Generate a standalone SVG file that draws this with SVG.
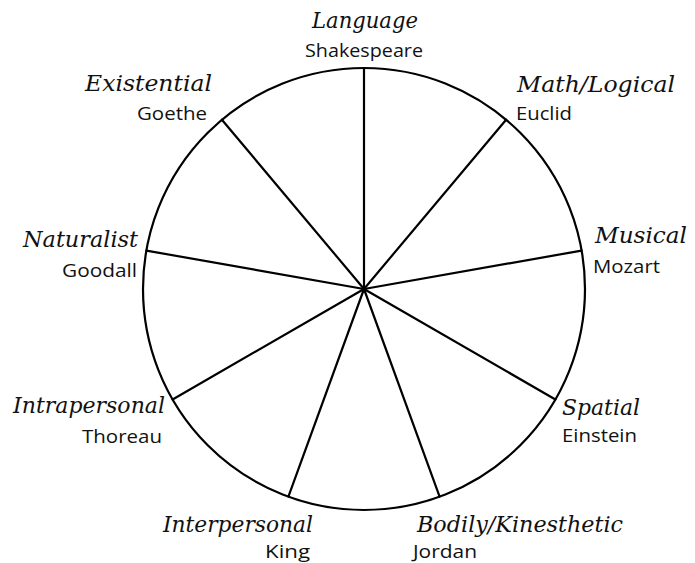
<svg xmlns="http://www.w3.org/2000/svg" width="695" height="563" viewBox="0 0 695 563">
<style>
.cat{font-family:"DejaVu Serif","Liberation Serif",serif;font-style:italic;font-size:22px;fill:#111}
.name{font-family:"Open Sans","Liberation Sans",sans-serif;font-size:18.5px;fill:#111}
.ln{stroke:#000;stroke-width:2.2;fill:none;stroke-linecap:round}
</style>
<rect width="695" height="563" fill="#fff"/>
<g id="connectors">
<circle class="ln" cx="364" cy="289" r="221"/>
<line class="ln" x1="364" y1="289" x2="364" y2="68"/>
<line class="ln" x1="364" y1="289" x2="506.1" y2="119.7"/>
<line class="ln" x1="364" y1="289" x2="581.6" y2="250.6"/>
<line class="ln" x1="364" y1="289" x2="555.4" y2="399.5"/>
<line class="ln" x1="364" y1="289" x2="439.6" y2="496.7"/>
<line class="ln" x1="364" y1="289" x2="288.4" y2="496.7"/>
<line class="ln" x1="364" y1="289" x2="172.6" y2="399.5"/>
<line class="ln" x1="364" y1="289" x2="146.4" y2="250.6"/>
<line class="ln" x1="364" y1="289" x2="221.9" y2="119.7"/>
</g>
<g id="language">
<text class="cat" x="312" y="28" textLength="106" lengthAdjust="spacingAndGlyphs">Language</text>
<text class="name" x="305" y="57" textLength="118" lengthAdjust="spacingAndGlyphs">Shakespeare</text>
</g>
<g id="math">
<text class="cat" x="517" y="92" textLength="158" lengthAdjust="spacingAndGlyphs">Math/Logical</text>
<text class="name" x="516" y="120" textLength="56" lengthAdjust="spacingAndGlyphs">Euclid</text>
</g>
<g id="musical">
<text class="cat" x="595" y="243" textLength="92" lengthAdjust="spacingAndGlyphs">Musical</text>
<text class="name" x="593" y="273" textLength="67" lengthAdjust="spacingAndGlyphs">Mozart</text>
</g>
<g id="spatial">
<text class="cat" x="562" y="415" textLength="78" lengthAdjust="spacingAndGlyphs">Spatial</text>
<text class="name" x="562" y="442" textLength="75" lengthAdjust="spacingAndGlyphs">Einstein</text>
</g>
<g id="bodily">
<text class="cat" x="417" y="532" textLength="206" lengthAdjust="spacingAndGlyphs">Bodily/Kinesthetic</text>
<text class="name" x="413" y="558" textLength="64" lengthAdjust="spacingAndGlyphs">Jordan</text>
</g>
<g id="interpersonal">
<text class="cat" x="163" y="532" textLength="150" lengthAdjust="spacingAndGlyphs">Interpersonal</text>
<text class="name" x="265" y="558" textLength="45" lengthAdjust="spacingAndGlyphs">King</text>
</g>
<g id="intrapersonal">
<text class="cat" x="13" y="413" textLength="152" lengthAdjust="spacingAndGlyphs">Intrapersonal</text>
<text class="name" x="82" y="443" textLength="80" lengthAdjust="spacingAndGlyphs">Thoreau</text>
</g>
<g id="naturalist">
<text class="cat" x="23" y="247" textLength="115" lengthAdjust="spacingAndGlyphs">Naturalist</text>
<text class="name" x="62" y="277" textLength="75" lengthAdjust="spacingAndGlyphs">Goodall</text>
</g>
<g id="existential">
<text class="cat" x="85" y="91" textLength="127" lengthAdjust="spacingAndGlyphs">Existential</text>
<text class="name" x="137" y="120" textLength="70" lengthAdjust="spacingAndGlyphs">Goethe</text>
</g>
</svg>
